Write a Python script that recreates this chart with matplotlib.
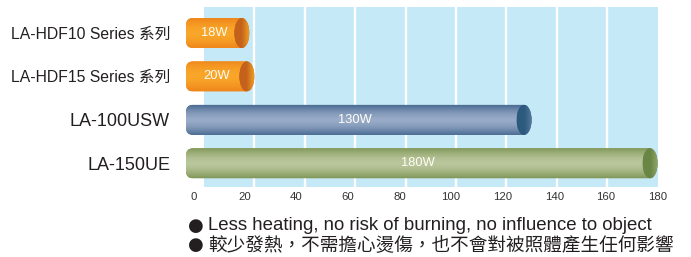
import numpy as np
import matplotlib
matplotlib.use("Agg")
import matplotlib.pyplot as plt
from matplotlib.path import Path
from matplotlib.patches import PathPatch, Ellipse
from matplotlib.colors import LinearSegmentedColormap

# ---- data ----
categories = ["LA-HDF10 Series 系列", "LA-HDF15 Series 系列", "LA-100USW", "LA-150UE"]
values = [18, 20, 130, 180]
value_labels = ["18W", "20W", "130W", "180W"]
tick_values = [0, 20, 40, 60, 80, 100, 120, 140, 160, 180]
notes = ["Less heating, no risk of burning, no influence to object",
         "較少發熱，不需擔心燙傷，也不會對被照體產生任何影響"]

# ---- style ----
FAM = ["Liberation Sans", "Noto Sans CJK TC", "DejaVu Sans"]
plt.rcParams["font.family"] = FAM
label_sizes = [11.3, 11.3, 13, 13]
body_cols = [("#EF861B", "#F9A72A"), ("#EF861B", "#F9A72A"),
             ("#4C6C94", "#98ABC8"), ("#82995A", "#BAC69C")]
cap_cols = [("#C4621C", "#EC9A22"), ("#C4621C", "#EC9A22"),
            ("#2C5A7E", "#53799C"), ("#6A8645", "#93A76C")]
bg_col = "#C6E9F8"

W, H = 691, 257
fig = plt.figure(figsize=(W / 100, H / 100), dpi=100)
ax_left_px, ax_right_px = 186, 657.6
ax_top_px, ax_bot_px = 7, 187
ax = fig.add_axes([ax_left_px / W, 1 - ax_bot_px / H,
                   (ax_right_px - ax_left_px) / W, (ax_bot_px - ax_top_px) / H])
x_min = -7.14
x_max = 180
y_top, y_bot = -0.599, 3.546
ax.set_xlim(x_min, x_max)
ax.set_ylim(y_bot, y_top)
for s in ax.spines.values():
    s.set_visible(False)

ppx = (ax_right_px - ax_left_px) / (x_max - x_min)   # px per x unit
ppy = (ax_bot_px - ax_top_px) / (y_bot - y_top)      # px per y unit

ax.axvspan(0, 180, color=bg_col, zorder=0, lw=0)
ax.vlines(tick_values[1:-1], y_top, y_bot, colors="white", lw=1.7, zorder=1)

hh = 15 / ppy
cap_a = 7.5 / ppx
rx, ry = 7 / ppx, 7 / ppy
grad_v = np.abs(np.linspace(-1, 1, 64))[:, None] ** 1.6
grad_h = np.linspace(0, 1, 64)[None, :]

for i, v in enumerate(values):
    y = i
    c = v - cap_a
    x0 = x_min
    verts = [(c, y - hh), (x0 + rx, y - hh), (x0, y - hh), (x0, y - hh + ry),
             (x0, y + hh - ry), (x0, y + hh), (x0 + rx, y + hh), (c, y + hh),
             (c, y - hh)]
    codes = [Path.MOVETO, Path.LINETO, Path.CURVE3, Path.CURVE3,
             Path.LINETO, Path.CURVE3, Path.CURVE3, Path.LINETO, Path.CLOSEPOLY]
    patch = PathPatch(Path(verts, codes), facecolor=body_cols[i][0], lw=0, zorder=2)
    ax.add_patch(patch)
    cmap = LinearSegmentedColormap.from_list("b%d" % i, [body_cols[i][1], body_cols[i][0]])
    im = ax.imshow(grad_v, cmap=cmap, extent=[x0, c + 0.01, y + hh, y - hh],
                   aspect="auto", interpolation="bicubic", zorder=2.1)
    im.set_clip_path(patch)

    ell = Ellipse((c, y), 2 * cap_a, 2 * hh, facecolor=cap_cols[i][0], lw=0, zorder=3)
    ax.add_patch(ell)
    cmap2 = LinearSegmentedColormap.from_list("c%d" % i, [cap_cols[i][0], cap_cols[i][0], cap_cols[i][1]])
    im2 = ax.imshow(grad_h, cmap=cmap2, extent=[c - cap_a, c + cap_a, y + hh, y - hh],
                    aspect="auto", interpolation="bicubic", zorder=3.1)
    im2.set_clip_path(ell)

    ax.text((x0 + c) / 2, y, value_labels[i], color="#FFFDF5", fontsize=9.3,
            ha="center", va="center", zorder=4)

ax.set_xlim(x_min, x_max)
ax.set_ylim(y_bot, y_top)

ax.set_yticks(range(len(categories)))
ax.set_yticklabels(categories)
for lab, sz in zip(ax.get_yticklabels(), label_sizes):
    lab.set_fontsize(sz)
    lab.set_color("#231F20")
ax.tick_params(axis="y", length=0, pad=11.5)
ax.set_xticks([])

# tick label axis (labels placed slightly offset in the source)
ax2 = ax.twiny()
t0_px, step_px = 193.3, (657.3 - 193.3) / 180
ax2.set_xlim((ax_left_px - t0_px) / step_px, (ax_right_px - t0_px) / step_px)
ax2.xaxis.set_ticks_position("bottom")
ax2.set_xticks(tick_values)
ax2.set_xticklabels([str(t) for t in tick_values])
ax2.tick_params(axis="x", length=0, pad=3.5, labelsize=8.2, labelcolor="#333333")
for s in ax2.spines.values():
    s.set_visible(False)

# notes
for k, (note, ypx) in enumerate(zip(notes, [226, 245])):
    fig.text(188.5 / W, 1 - ypx / H, "●", fontsize=13, family=["DejaVu Sans"],
             color="#231F20", ha="left", va="center")
    fig.text(208 / W, 1 - ypx / H, note, fontsize=13.4, color="#231F20",
             ha="left", va="center")

fig.savefig("out.png", dpi=100)
